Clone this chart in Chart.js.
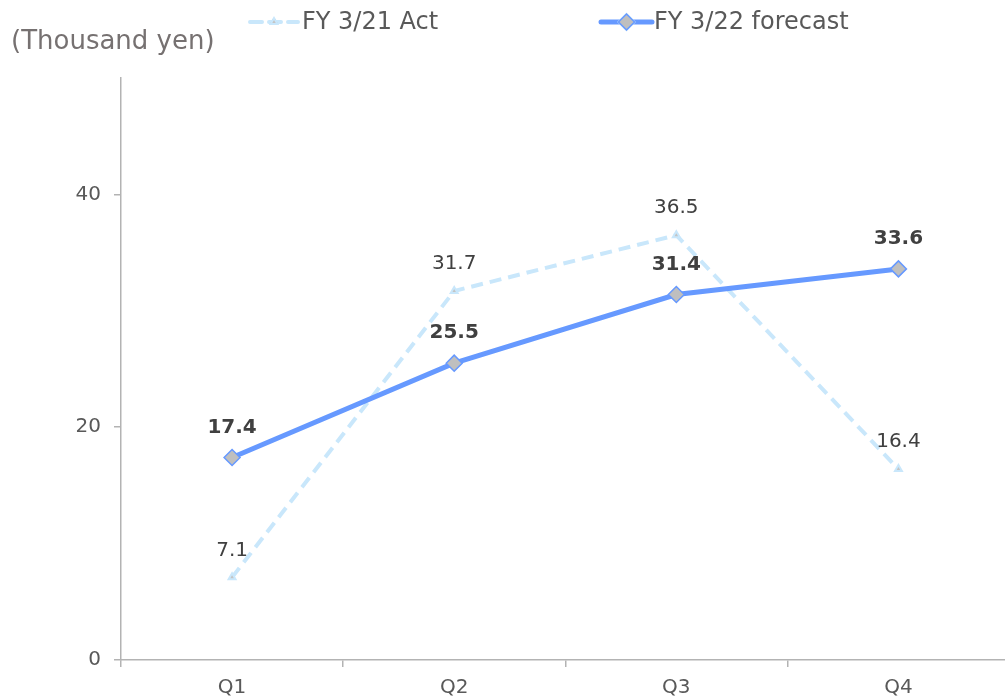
<!DOCTYPE html>
<html>
<head>
<meta charset="utf-8">
<script src="https://cdn.jsdelivr.net/npm/chart.js@4.4.1/dist/chart.umd.min.js"></script>
<style>
  html, body { margin: 0; padding: 0; background: #ffffff; overflow: hidden; }
  #wrap { width: 1019px; height: 710px; }
</style>
</head>
<body>
<div id="wrap"><canvas id="c" width="1019" height="710"></canvas></div>
<script>
// Quarterly values, thousand yen
const quarters = ['Q1', 'Q2', 'Q3', 'Q4'];
const actFY21 = [7.1, 31.7, 36.5, 16.4];
const forecastFY22 = [17.4, 25.5, 31.4, 33.6];
const seriesNames = ['FY 3/21 Act', 'FY 3/22 forecast'];
const yTickValues = [0, 20, 40];
const unitLabel = '(Thousand yen)';

const FONT = '"DejaVu Sans", Verdana, sans-serif';
const AXIS_GREY = '#b3b3b3';
const TEXT_GREY = '#595959';
const ACT_BLUE = '#c9e7fb';
const FC_BLUE = '#6699ff';

// Value labels above each point
const valueLabels = {
  id: 'valueLabels',
  afterDatasetsDraw(chart) {
    const ctx = chart.ctx;
    chart.data.datasets.forEach((ds, i) => {
      const meta = chart.getDatasetMeta(i);
      const cfg = ds.labelStyle;
      ctx.save();
      ctx.font = cfg.font;
      ctx.fillStyle = cfg.color;
      ctx.textAlign = 'center';
      ctx.textBaseline = 'middle';
      meta.data.forEach((pt, j) => {
        ctx.fillText(ds.data[j].toFixed(1), pt.x, pt.y - cfg.offset);
      });
      ctx.restore();
    });
  }
};

// Unit caption and line-with-marker legend along the top
const headerLegend = {
  id: 'headerLegend',
  afterDraw(chart) {
    const ctx = chart.ctx;
    ctx.save();
    ctx.font = '26px ' + FONT;
    ctx.fillStyle = '#767171';
    ctx.textAlign = 'left';
    ctx.textBaseline = 'middle';
    ctx.fillText(unitLabel, 11, 42);

    const items = [
      { x0: 250, x1: 298, textX: 302 },
      { x0: 601, x1: 652, textX: 654 }
    ];
    const y = 22;
    chart.data.datasets.forEach((ds, i) => {
      const it = items[i];
      ctx.save();
      ctx.strokeStyle = ds.borderColor;
      ctx.lineWidth = ds.borderWidth;
      ctx.lineCap = 'round';
      ctx.setLineDash(ds.borderDash || []);
      ctx.beginPath();
      ctx.moveTo(it.x0, y);
      ctx.lineTo(it.x1, y);
      ctx.stroke();
      ctx.restore();
      Chart.helpers.drawPoint(ctx, {
        pointStyle: ds.pointStyle,
        radius: ds.pointRadius,
        borderWidth: ds.pointBorderWidth,
        rotation: 0
      }, (it.x0 + it.x1) / 2, y);
      ctx.fillStyle = ds.pointBackgroundColor;
      ctx.strokeStyle = ds.pointBorderColor;
      ctx.lineWidth = ds.pointBorderWidth;
      ctx.fill();
      if (ds.pointBorderWidth) ctx.stroke();
      ctx.font = '24px ' + FONT;
      ctx.fillStyle = TEXT_GREY;
      ctx.textBaseline = 'middle';
      ctx.fillText(ds.label, it.textX, y + 1);
    });
    ctx.restore();
  }
};

new Chart(document.getElementById('c'), {
  type: 'line',
  data: {
    labels: quarters,
    datasets: [
      {
        label: seriesNames[0],
        data: actFY21,
        borderColor: ACT_BLUE,
        borderWidth: 4,
        borderDash: [12, 7],
        tension: 0,
        pointStyle: 'triangle',
        pointRadius: 4,
        pointBackgroundColor: '#c4c4c4',
        pointBorderColor: ACT_BLUE,
        pointBorderWidth: 2,
        order: 2,
        labelStyle: { font: '20px ' + FONT, color: '#404040', offset: 27 }
      },
      {
        label: seriesNames[1],
        data: forecastFY22,
        borderColor: FC_BLUE,
        borderWidth: 5,
        tension: 0,
        pointStyle: 'rectRot',
        pointRadius: 8,
        pointBackgroundColor: '#bfbfbf',
        pointBorderColor: FC_BLUE,
        pointBorderWidth: 1.5,
        order: 1,
        labelStyle: { font: 'bold 20px ' + FONT, color: '#404040', offset: 30 }
      }
    ]
  },
  options: {
    responsive: false,
    animation: false,
    devicePixelRatio: 1,
    layout: { padding: { top: 78, left: 0, right: 3, bottom: 0 } },
    plugins: {
      legend: { display: false },
      tooltip: { enabled: false }
    },
    scales: {
      x: {
        offset: true,
        grid: {
          offset: true,
          drawOnChartArea: false,
          drawTicks: true,
          tickLength: 7,
          color: AXIS_GREY,
          lineWidth: 1.5
        },
        border: { color: AXIS_GREY, width: 1.5 },
        ticks: { color: TEXT_GREY, font: { family: FONT, size: 20 }, padding: 9 },
        afterFit(scale) { scale.height = 50; }
      },
      y: {
        min: 0,
        max: 50,
        ticks: {
          stepSize: 20,
          color: TEXT_GREY,
          font: { family: FONT, size: 20 },
          padding: 13
        },
        afterBuildTicks(scale) {
          scale.ticks = yTickValues.map(v => ({ value: v }));
        },
        grid: {
          drawOnChartArea: false,
          tickLength: 7,
          color: AXIS_GREY,
          lineWidth: 1.5
        },
        border: { color: AXIS_GREY, width: 1.5 },
        afterFit(scale) { scale.width = 121; }
      }
    }
  },
  plugins: [valueLabels, headerLegend]
});
</script>
</body>
</html>
